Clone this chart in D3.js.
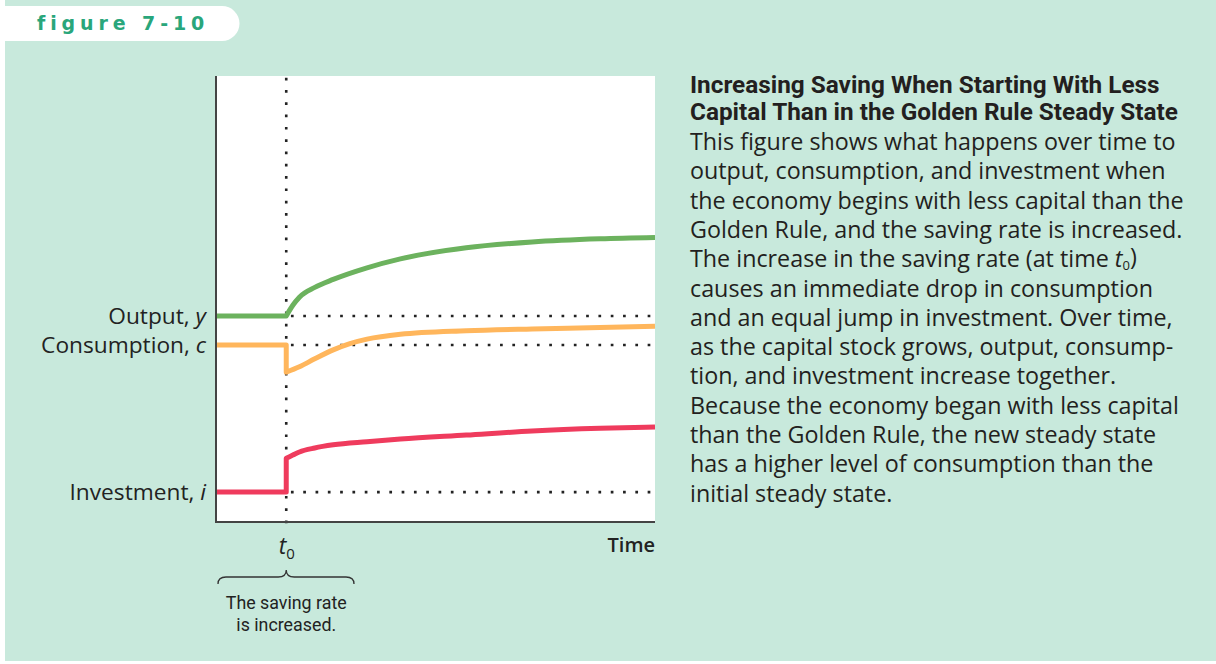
<!DOCTYPE html>
<html lang="en">
<head>
<meta charset="UTF-8">
<title>figure 7-10</title>
<style>
body { margin: 0; background: #fff; }
.series { fill: none; stroke-width: 5px; stroke-linejoin: round; stroke-linecap: butt; }
.guide { fill: none; stroke: #222; stroke-width: 2.6px; stroke-dasharray: 0.1, 12.2; stroke-linecap: square; }
.axis path { stroke: #444; stroke-width: 2px; }
.axis text { fill: #222; }
</style>
</head>
<body>
<script src="https://cdn.jsdelivr.net/npm/d3@7"></script>
<script>
// time runs 0..100, saving rate raised at t0
var t0 = 16;
var seriesNames = ["Output", "Consumption", "Investment"];
var seriesVars = ["y", "c", "i"];
var startLevels = [46.2, 39.7, 6.7];
var seriesColors = ["#6cb25e", "#ffb65c", "#ef3b5d"];

// paths after t0 (time, level)
var outputPath = [[16, 46.2], [17.5, 48.6], [19, 50.4], [22.5, 52.6], [26.7, 54.4], [34.4, 57.0], [42, 59.0], [57, 61.5], [72, 62.8], [87.5, 63.5], [100, 63.8]];
var consumptionPath = [[16, 33.6], [19, 34.8], [22.5, 36.6], [26.7, 38.6], [30.5, 40.0], [34.4, 41.0], [42, 42.1], [57, 42.9], [72, 43.3], [87.5, 43.6], [100, 43.9]];
var investmentPath = [[16, 14.3], [17.5, 15.0], [19, 15.7], [22.5, 16.6], [26.7, 17.3], [34.4, 18.0], [42, 18.6], [57, 19.5], [72, 20.4], [87.5, 21.0], [100, 21.3]];
var paths = [outputPath, consumptionPath, investmentPath];

var captionTitle = ["Increasing Saving When Starting With Less", "Capital Than in the Golden Rule Steady State"];
var captionBody = [
  "This figure shows what happens over time to",
  "output, consumption, and investment when",
  "the economy begins with less capital than the",
  "Golden Rule, and the saving rate is increased.",
  "The increase in the saving rate (at time t0)",
  "causes an immediate drop in consumption",
  "and an equal jump in investment. Over time,",
  "as the capital stock grows, output, consump-",
  "tion, and investment increase together.",
  "Because the economy began with less capital",
  "than the Golden Rule, the new steady state",
  "has a higher level of consumption than the",
  "initial steady state."
];

var W = 1216, H = 664;
var plot = { left: 216, top: 76, right: 655, bottom: 522 };

var svg = d3.select("body").append("svg")
    .attr("width", W)
    .attr("height", H)
    .style("display", "block");

// scale a text selection's font so its widest line is `target` px
function fitWidth(sel, target) {
    var size = parseFloat(sel.attr("font-size"));
    var widest = d3.max(sel.nodes(), function(n) { return n.getComputedTextLength(); });
    sel.attr("font-size", (size * target / widest).toFixed(2));
}

svg.append("rect").attr("x", 5).attr("y", 0).attr("width", W - 5).attr("height", H - 3).attr("fill", "#c8e9dc");

// figure tab
svg.append("path")
    .attr("d", "M5,6 L222,6 A17.5,17.5 0 0 1 222,41 L5,41 Z")
    .attr("fill", "#fff");
svg.append("text")
    .attr("x", 37).attr("y", 30)
    .attr("font-family", "DejaVu Sans, sans-serif")
    .attr("font-weight", "bold")
    .attr("font-size", 19)
    .attr("letter-spacing", 4.9)
    .attr("fill", "#29a67b")
    .text("figure 7-10");

// plot
svg.append("rect")
    .attr("x", plot.left).attr("y", plot.top)
    .attr("width", plot.right - plot.left).attr("height", plot.bottom - plot.top)
    .attr("fill", "#fff");

var x = d3.scaleLinear().domain([0, 100]).range([plot.left, plot.right]);
var y = d3.scaleLinear().domain([0, 100]).range([plot.bottom, plot.top]);

// dotted guides
svg.append("line").attr("class", "guide")
    .attr("x1", x(t0)).attr("x2", x(t0))
    .attr("y1", plot.top + 3).attr("y2", plot.bottom);
startLevels.forEach(function(v) {
    svg.append("line").attr("class", "guide")
        .attr("x1", x(t0) + 6).attr("x2", plot.right - 4)
        .attr("y1", y(v)).attr("y2", y(v));
});

var preLine = d3.line().x(function(d) { return x(d[0]); }).y(function(d) { return y(d[1]); });
var postLine = d3.line().x(function(d) { return x(d[0]); }).y(function(d) { return y(d[1]); }).curve(d3.curveMonotoneX);

paths.forEach(function(p, k) {
    var pre = preLine([[0, startLevels[k]], [t0, startLevels[k]], p[0]]);
    var post = postLine(p).replace(/^M/, "L");
    svg.append("path")
        .attr("class", "series")
        .attr("stroke", seriesColors[k])
        .attr("d", pre + post);
});

// axes
var textFont = "'Open Sans', Lato, sans-serif";
var yAxis = svg.append("g")
    .attr("class", "axis")
    .attr("transform", "translate(" + plot.left + ",0)")
    .call(d3.axisLeft(y).tickValues(startLevels).tickSize(0).tickSizeOuter(0).tickPadding(10).tickFormat(""));
yAxis.select(".domain").attr("d", "M0," + plot.top + "V" + (plot.bottom + 1));
var yLabels = yAxis.selectAll(".tick text")
    .attr("font-family", textFont)
    .attr("font-size", 20)
    .attr("dy", "0.32em")
    .each(function(d, k) {
        var t = d3.select(this);
        t.append("tspan").text(seriesNames[k] + ", ");
        t.append("tspan").attr("font-style", "italic").text(seriesVars[k]);
    });
fitWidth(yLabels, 165);

var xAxis = svg.append("g")
    .attr("class", "axis")
    .attr("transform", "translate(0," + plot.bottom + ")")
    .call(d3.axisBottom(x).tickValues([t0]).tickSize(0).tickSizeOuter(0).tickPadding(14).tickFormat(""));
xAxis.select(".domain").attr("d", "M" + (plot.left - 1) + ",0H" + plot.right);
xAxis.selectAll(".tick text")
    .attr("font-family", textFont)
    .attr("font-size", 23)
    .attr("dy", "0.78em")
    .each(function() {
        var t = d3.select(this);
        t.append("tspan").attr("font-style", "italic").text("t");
        t.append("tspan").attr("font-size", 15).attr("dy", "0.35em").text("0");
    });

svg.append("text")
    .attr("x", plot.right).attr("y", 552)
    .attr("text-anchor", "end")
    .attr("font-family", textFont)
    .attr("font-weight", 600)
    .attr("font-size", 20)
    .attr("fill", "#222")
    .text("Time");

// brace under t0
var bx = x(t0);
svg.append("path")
    .attr("d", "M218,584 Q218,577 226,577 L" + (bx - 8) + ",577 Q" + bx + ",577 " + bx + ",570 Q" + bx + ",577 " + (bx + 8) + ",577 L346,577 Q354,577 354,584")
    .attr("fill", "none")
    .attr("stroke", "#333")
    .attr("stroke-width", 1.3);

var notes = svg.selectAll(".note").data(["The saving rate", "is increased."]).enter().append("text")
    .attr("class", "note")
    .attr("x", bx).attr("y", function(d, k) { return 609 + k * 22; })
    .attr("text-anchor", "middle")
    .attr("font-family", "Roboto, sans-serif")
    .attr("font-size", 16)
    .attr("fill", "#222")
    .text(function(d) { return d; });
fitWidth(notes, 121);

// caption
var titles = svg.selectAll(".ctitle").data(captionTitle).enter().append("text")
    .attr("class", "ctitle")
    .attr("x", 690).attr("y", function(d, k) { return 93 + k * 27; })
    .attr("font-family", "Roboto, sans-serif")
    .attr("font-weight", "bold")
    .attr("font-size", 20)
    .attr("fill", "#231f20")
    .text(function(d) { return d; });
fitWidth(titles, 488);

var body = svg.selectAll(".cbody").data(captionBody).enter().append("text")
    .attr("class", "cbody")
    .attr("x", 690).attr("y", function(d, k) { return 150 + k * 29.3; })
    .attr("font-family", textFont)
    .attr("font-size", 21)
    .attr("fill", "#231f20")
    .each(function(d) {
        var t = d3.select(this);
        var m = d.indexOf("t0)");
        if (m < 0) { t.text(d); return; }
        t.append("tspan").text(d.slice(0, m));
        t.append("tspan").attr("font-style", "italic").text("t");
        t.append("tspan").attr("font-size", 13).attr("dy", "0.2em").text("0");
        t.append("tspan").attr("dy", "-0.2em").text(")");
    });
fitWidth(body, 494);
</script>
</body>
</html>
